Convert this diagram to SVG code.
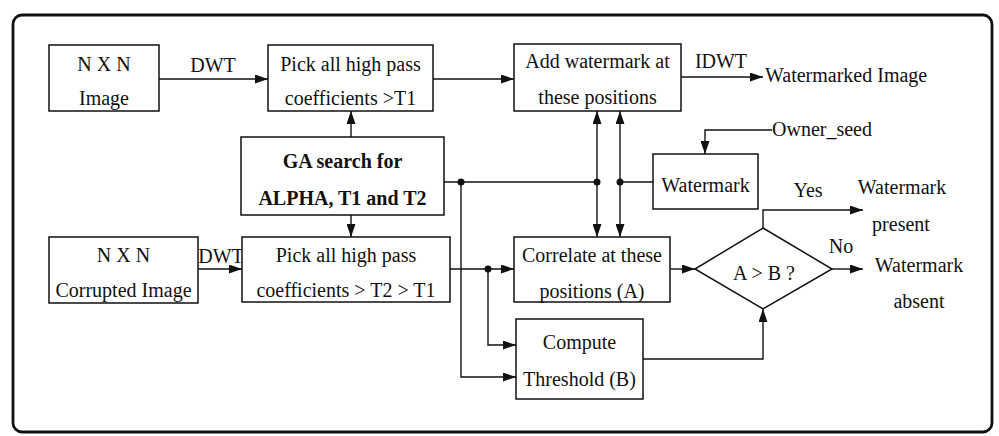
<svg xmlns="http://www.w3.org/2000/svg" width="999" height="436" viewBox="0 0 999 436">
<defs>
<marker id="ah" markerUnits="userSpaceOnUse" markerWidth="13" markerHeight="9" refX="13" refY="4.5" orient="auto-start-reverse">
<path d="M0,0 L13,4.5 L0,9 z" fill="#111"/>
</marker>
<style>
.box{fill:#fff;stroke:#111;stroke-width:1.5}
.t{font-family:"Liberation Serif","Times New Roman",serif;font-size:20px;fill:#111;text-anchor:middle}
.b{font-weight:bold}
.l{text-anchor:start}
.c{fill:none;stroke:#111;stroke-width:1.4}
.a{marker-end:url(#ah)}
.dot{fill:#111}
</style>
</defs>
<rect width="999" height="436" fill="#fff"/>
<rect x="13" y="15" width="979" height="417" rx="9" fill="none" stroke="#111" stroke-width="2.8"/>

<g id="connectors">
<line class="c a" x1="159" y1="79" x2="268" y2="79"/>
<line class="c a" x1="433" y1="79" x2="514" y2="79"/>
<line class="c a" x1="681" y1="77" x2="763" y2="77"/>
<line class="c a" x1="351" y1="137" x2="351" y2="111"/>
<line class="c a" x1="351" y1="215" x2="351" y2="237"/>
<line class="c a" x1="198" y1="269" x2="242" y2="269"/>
<line class="c a" x1="450" y1="269" x2="514" y2="269"/>
<line class="c" x1="444" y1="182" x2="597" y2="182"/>
<line class="c" x1="620" y1="182" x2="653" y2="182"/>
<line class="c a" x1="597" y1="182" x2="597" y2="111"/>
<line class="c a" x1="597" y1="182" x2="597" y2="237"/>
<line class="c a" x1="620" y1="182" x2="620" y2="111"/>
<line class="c a" x1="620" y1="182" x2="620" y2="237"/>
<path class="c a" d="M461,182 V377 H516"/>
<path class="c a" d="M488,269 V345 H516"/>
<path class="c a" d="M772,130 H705 V154"/>
<line class="c a" x1="670" y1="269" x2="695" y2="269"/>
<path class="c a" d="M643,359 H763 V309"/>
<path class="c a" d="M763,228 V210 H863"/>
<line class="c a" x1="832" y1="269" x2="863" y2="269"/>
<circle class="dot" cx="461" cy="182" r="3.5"/>
<circle class="dot" cx="597" cy="182" r="3.5"/>
<circle class="dot" cx="620" cy="182" r="3.5"/>
<circle class="dot" cx="488" cy="269" r="3.5"/>
<text class="t" x="213" y="72">DWT</text>
<text class="t" x="221" y="263">DWT</text>
<text class="t" x="721" y="68">IDWT</text>
<text class="t l" x="765" y="82">Watermarked Image</text>
<text class="t l" x="772" y="136">Owner_seed</text>
<text class="t" x="808" y="197">Yes</text>
<text class="t" x="841" y="253">No</text>
<text class="t" x="902" y="194">Watermark</text>
<text class="t" x="901" y="231">present</text>
<text class="t" x="919" y="272">Watermark</text>
<text class="t" x="919" y="308">absent</text>
</g>

<g id="image">
<rect class="box" x="49" y="45" width="110" height="66"/>
<text class="t" x="104" y="71">N X N</text>
<text class="t" x="104" y="105">Image</text>
</g>
<g id="pick1">
<rect class="box" x="268" y="45" width="165" height="66"/>
<text class="t" x="350.5" y="71">Pick all high pass</text>
<text class="t" x="350.5" y="105">coefficients &gt;T1</text>
</g>
<g id="add">
<rect class="box" x="514" y="44" width="167" height="67"/>
<text class="t" x="597.5" y="68">Add watermark at</text>
<text class="t" x="597.5" y="104">these positions</text>
</g>
<g id="ga">
<rect class="box" x="241" y="137" width="203" height="78"/>
<text class="t b" x="342.5" y="168">GA search for</text>
<text class="t b" x="342.5" y="205">ALPHA, T1 and T2</text>
</g>
<g id="watermark">
<rect class="box" x="653" y="154" width="105" height="55"/>
<text class="t" x="705.5" y="192">Watermark</text>
</g>
<g id="corrupted">
<rect class="box" x="49" y="237" width="149" height="66"/>
<text class="t" x="123.5" y="262">N X N</text>
<text class="t" x="123.5" y="297">Corrupted Image</text>
</g>
<g id="pick2">
<rect class="box" x="242" y="237" width="208" height="65"/>
<text class="t" x="346" y="262">Pick all high pass</text>
<text class="t" x="346" y="297">coefficients &gt; T2 &gt; T1</text>
</g>
<g id="correlate">
<rect class="box" x="514" y="237" width="156" height="65"/>
<text class="t" x="592" y="262">Correlate at these</text>
<text class="t" x="592" y="298">positions (A)</text>
</g>
<g id="compute">
<rect class="box" x="516" y="319" width="127" height="80"/>
<text class="t" x="579.5" y="349">Compute</text>
<text class="t" x="579.5" y="386">Threshold (B)</text>
</g>
<g id="decision">
<polygon class="box" points="763,228 832,269 763,309 695,269"/>
<text class="t" x="764" y="280">A &gt; B ?</text>
</g>
</svg>
